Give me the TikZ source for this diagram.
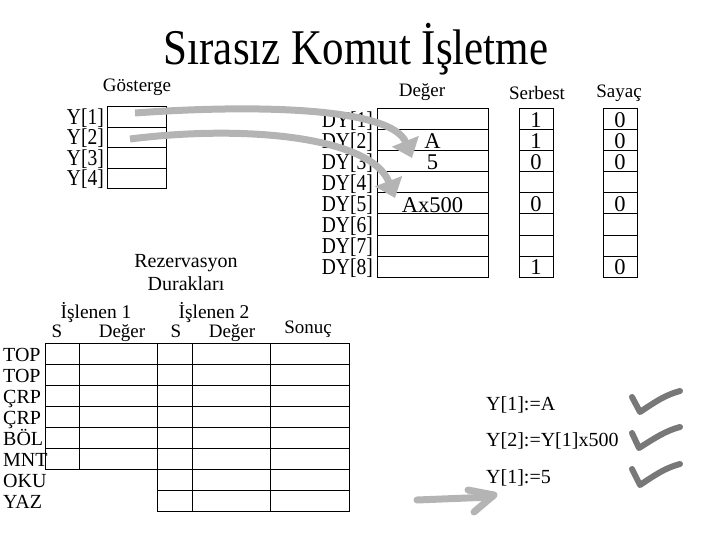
\documentclass[tikz,border=0pt]{standalone}
\usepackage{fontspec}
\setmainfont{Liberation Serif}
\usetikzlibrary{arrows.meta}
\definecolor{arrowgray}{RGB}{180,180,180}
\definecolor{checkgray}{RGB}{120,120,120}
\newcommand\narrowtxt[1]{\scalebox{0.86}[1]{#1}}
\begin{document}
\begin{tikzpicture}[x=1pt,y=-1pt,
  lbl/.style={inner sep=0pt, font=\fontsize{22.7}{24}\selectfont},
  txt/.style={inner sep=0pt, font=\fontsize{19}{22}\selectfont},
  rowlbl/.style={inner sep=0pt, anchor=base west, font=\fontsize{20}{22}\selectfont},
  val/.style={inner sep=0pt, anchor=base, font=\fontsize{22.5}{25}\selectfont},
  cellbox/.style={draw, line width=1pt, inner sep=0pt, outer sep=0pt},
  garrow/.style={draw=arrowgray, line width=7pt, -{Triangle[length=18pt,width=28pt]}},
  gline/.style={draw=arrowgray, line width=7pt, line cap=butt, line join=round},
  checkmark/.style={draw=checkgray, line width=6pt, line cap=round, line join=round}
]
\useasboundingbox (0,0) rectangle (720,540);

% title
\node[inner sep=0pt, anchor=base, font=\fontsize{50}{54}\selectfont] (title) at (356,65) {\narrowtxt{Sırasız Komut İşletme}};

% Gösterge
\node[txt, anchor=base] (gosterge) at (137,92) {Gösterge};
\foreach \i in {1,...,4}{
  \node[cellbox, minimum width=59pt, minimum height=20.5pt] (y\i) at (136.5,{107+20.5*(\i-0.5)}) {};
  \node[lbl, anchor=base east] (ylbl\i) at (104,{107+20.5*\i-3}) {\narrowtxt{Y[\i]}};
}

% Değer / DY table
\node[txt, anchor=base] (deger) at (422,97) {Değer};
\node[txt, anchor=base] (serbest) at (537,100) {Serbest};
\node[txt, anchor=base] (sayac) at (619,98) {Sayaç};
\foreach \i in {1,...,8}{
  \node[cellbox, minimum width=111pt, minimum height=21pt] (dy\i) at (432.5,{109+21*(\i-0.5)}) {};
  \node[lbl, anchor=base east] (dylbl\i) at (373,{109+21*\i-2.5}) {\narrowtxt{DY[\i]}};
  \node[cellbox, minimum width=34pt, minimum height=21pt] (sb\i) at (536,{109+21*(\i-0.5)}) {};
  \node[cellbox, minimum width=34pt, minimum height=21pt] (sy\i) at (620,{109+21*(\i-0.5)}) {};
}
\node[val] (v2) at (432.5,149) {A};
\node[val] (v3) at (432.5,169.5) {5};
\node[val] (v5) at (432.5,212) {Ax500};
\foreach \i/\v in {1/1,2/1,3/0,5/0,8/1}{
  \node[val] (sbv\i) at (536,{109+21*\i-2.5}) {\v};
}
\foreach \i/\v in {1/0,2/0,3/0,5/0,8/0}{
  \node[val] (syv\i) at (620,{109+21*\i-2.5}) {\v};
}

% Rezervasyon durakları
\node[txt, anchor=base, font=\fontsize{20}{22}\selectfont] (rez) at (186,267) {Rezervasyon};
\node[txt, anchor=base, font=\fontsize{20}{22}\selectfont] (dur) at (186,290) {Durakları};
\node[txt, anchor=base, font=\fontsize{19.5}{22}\selectfont] (isl1) at (96,318) {İşlenen 1};
\node[txt, anchor=base, font=\fontsize{19.5}{22}\selectfont] (isl2) at (214,318) {İşlenen 2};
\node[txt, anchor=base] (s1) at (57,337) {S};
\node[txt, anchor=base] (d1) at (122,337) {Değer};
\node[txt, anchor=base] (s2) at (176,337) {S};
\node[txt, anchor=base] (d2) at (232,337) {Değer};
\node[txt, anchor=base] (sonuc) at (308,333) {Sonuç};

\foreach \i/\op in {1/TOP,2/TOP,3/ÇRP,4/ÇRP,5/BÖL,6/MNT,7/OKU,8/YAZ}{
  \node[rowlbl] (op\i) at (3,{343+21*\i-2.5}) {\op};
}
\foreach \i in {1,...,6}{
  \node[cellbox, minimum width=34pt, minimum height=21pt] (rsa\i) at (62,{343+21*(\i-0.5)}) {};
  \node[cellbox, minimum width=78pt, minimum height=21pt] (rva\i) at (118,{343+21*(\i-0.5)}) {};
}
\foreach \i in {1,...,8}{
  \node[cellbox, minimum width=35pt, minimum height=21pt] (rsb\i) at (174.5,{343+21*(\i-0.5)}) {};
  \node[cellbox, minimum width=78pt, minimum height=21pt] (rvb\i) at (231,{343+21*(\i-0.5)}) {};
  \node[cellbox, minimum width=79pt, minimum height=21pt] (rr\i) at (309.5,{343+21*(\i-0.5)}) {};
}

% instructions
\node[rowlbl] (ins1) at (486,410) {Y[1]:=A};
\node[rowlbl] (ins2) at (486,446) {Y[2]:=Y[1]x500};
\node[rowlbl] (ins3) at (486,483) {Y[1]:=5};

% check marks
\draw[checkmark] (632,397) -- (640,412) .. controls (655,402) and (665,395) .. (680,391);
\draw[checkmark] (632,433) -- (639,448) .. controls (655,438) and (665,431) .. (680,427);
\draw[checkmark] (632,469) -- (640,485) .. controls (655,475) and (665,468) .. (680,464);

% gray arrows
\coordinate (a1s) at (135,113);
\coordinate (a1e) at (412,158);
\coordinate (a2s) at (130,139);
\coordinate (a2e) at (395,198);
\draw[garrow] (a1s) .. controls (260,104) and (392,108) .. (a1e);
\draw[garrow] (a2s) .. controls (250,124) and (372,138) .. (a2e);

% bottom arrow
\coordinate (b0) at (417,500);
\coordinate (b1) at (492,497);
\coordinate (bu) at (468,490);
\coordinate (bl) at (474,512);
\draw[gline, line cap=round] (b0) -- (b1);
\draw[gline, line cap=round] (bu) -- (494,495) -- (bl);
\end{tikzpicture}
\end{document}
